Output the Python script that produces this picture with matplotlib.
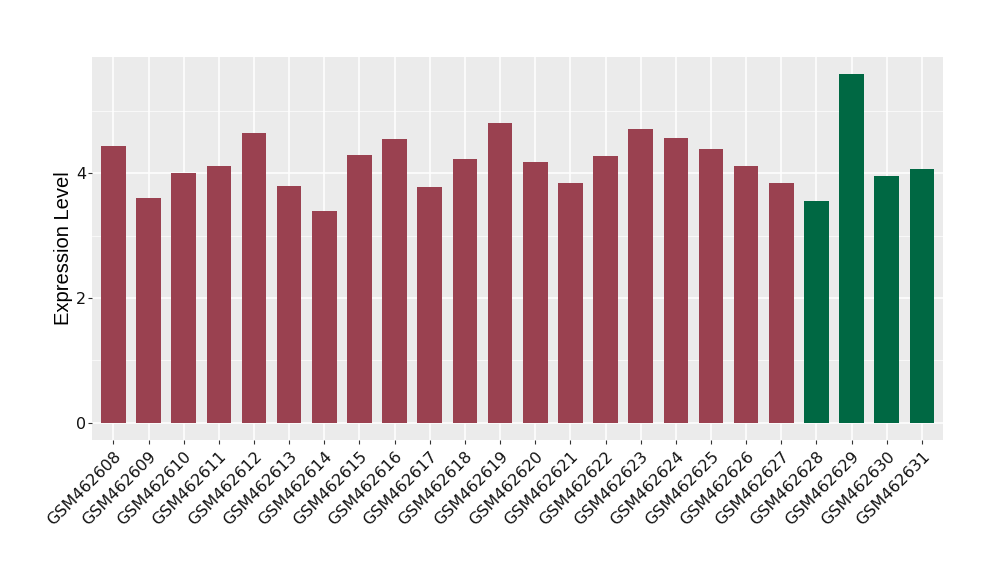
import numpy as np
import matplotlib
matplotlib.use("Agg")
import matplotlib.pyplot as plt
from matplotlib.ticker import MultipleLocator

# sample ids and expression values
samples = [f"GSM4626{n:02d}" for n in range(8, 32)]
values = [4.44, 3.61, 4.00, 4.12, 4.65, 3.80, 3.40, 4.30, 4.55, 3.78,
          4.23, 4.81, 4.18, 3.85, 4.28, 4.71, 4.57, 4.39, 4.12, 3.85,
          3.55, 5.59, 3.96, 4.07]
groups = ["a"] * 20 + ["b"] * 4

colors = {"a": "#9A4150", "b": "#006843"}

fig = plt.figure(figsize=(10, 5.8), dpi=100)
ax = fig.add_axes([0.0923, 0.2414, 0.8507, 0.6603])

x = np.arange(1, len(samples) + 1)
ax.bar(x, values, width=0.7, color=[colors[g] for g in groups], zorder=3)

ax.set_facecolor("#EBEBEB")
ax.set_xlim(0.4, len(samples) + 0.6)
ax.set_ylim(-0.28, 5.865)
ax.yaxis.set_major_locator(MultipleLocator(2))
ax.yaxis.set_minor_locator(MultipleLocator(1))
ax.grid(which="major", color="white", linewidth=1.1, zorder=0)
ax.grid(which="minor", axis="y", color="white", linewidth=0.5, zorder=0)
ax.set_axisbelow(True)
for s in ax.spines.values():
    s.set_visible(False)

ax.set_xticks(x)
ax.set_xticklabels(samples, rotation=45, ha="right", va="top",
                   rotation_mode="anchor", fontsize=11.5)
ax.tick_params(axis="both", which="major", length=3, color="#333333",
               labelsize=11.5, labelcolor="#111111")
ax.tick_params(axis="y", which="major", pad=1.5)
ax.tick_params(axis="y", which="minor", length=0)
ax.set_ylabel("Expression Level", fontsize=14.5, family="Liberation Sans",
              va="center")
ax.yaxis.set_label_coords(-0.034, 0.5)

fig.savefig("out.png", dpi=100)
